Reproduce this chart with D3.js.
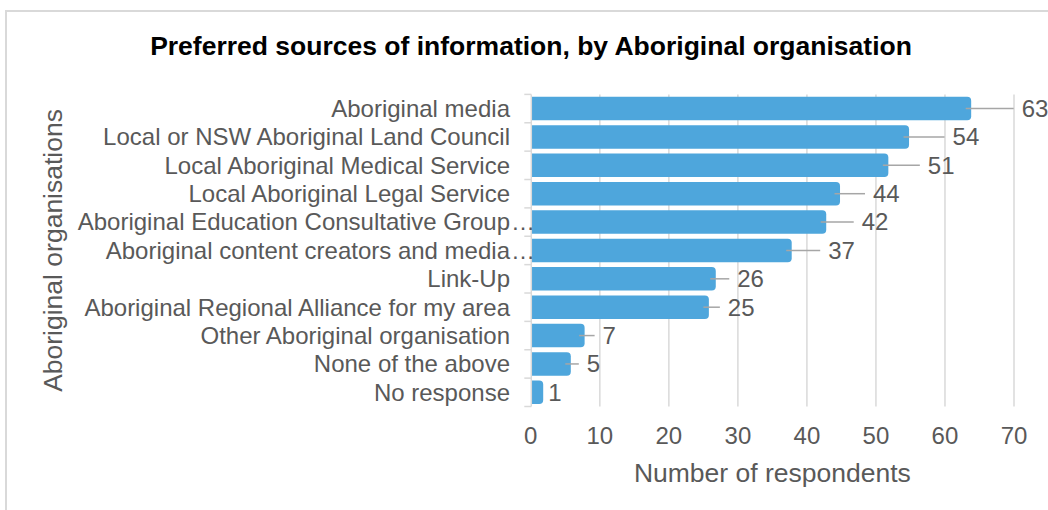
<!DOCTYPE html>
<html>
<head>
<meta charset="utf-8">
<script src="https://cdn.jsdelivr.net/npm/d3@7"></script>
<style>
  html, body { margin: 0; padding: 0; background: #fff; }
  svg { display: block; font-family: "Liberation Sans", Arial, sans-serif; }
</style>
</head>
<body>
<svg id="chart" width="1048" height="510"></svg>
<script>
// ---- data ----
const categories = [
  "Aboriginal media",
  "Local or NSW Aboriginal Land Council",
  "Local Aboriginal Medical Service",
  "Local Aboriginal Legal Service",
  "Aboriginal Education Consultative Group…",
  "Aboriginal content creators and media…",
  "Link-Up",
  "Aboriginal Regional Alliance for my area",
  "Other Aboriginal organisation",
  "None of the above",
  "No response"
];
const values = [63, 54, 51, 44, 42, 37, 26, 25, 7, 5, 1];
const xTickValues = [0, 10, 20, 30, 40, 50, 60, 70];
const chartTitle = "Preferred sources of information, by Aboriginal organisation";
const xAxisTitle = "Number of respondents";
const yAxisTitle = "Aboriginal organisations";

// ---- layout (not data) ----
const labelOffsets = [56, 49, 45, 38.5, 41, 42, 27, 24.5, 23.5, 21.5, 10.5];
const textColor = "#595959";
const gridColor = "#d9d9d9";
const barColor = "#4ea6dc";
const plotTop = 94.4, plotBottom = 406.5;

const svg = d3.select("#chart");

// outer chart border (top and left visible)
svg.append("rect")
  .attr("x", 6).attr("y", 11)
  .attr("width", 1200).attr("height", 600)
  .attr("fill", "none").attr("stroke", gridColor).attr("stroke-width", 2);

const x = d3.scaleLinear().domain([0, 70]).range([530.8, 1014]);
const y = d3.scaleBand().domain(categories).range([plotTop, plotBottom])
  .paddingInner(0.17).paddingOuter(0.085);

// title
svg.append("text")
  .attr("x", 531).attr("y", 55)
  .attr("text-anchor", "middle")
  .attr("font-size", 26.5).attr("font-weight", "bold").attr("fill", "#000")
  .text(chartTitle);

// gridlines
svg.append("g").selectAll("line").data(xTickValues.filter(d => d > 0)).join("line")
  .attr("x1", d => x(d)).attr("x2", d => x(d))
  .attr("y1", plotTop).attr("y2", plotBottom)
  .attr("stroke", gridColor).attr("stroke-width", 1.5);

// x tick labels
svg.append("g").selectAll("text").data(xTickValues).join("text")
  .attr("x", d => x(d)).attr("y", 443.5)
  .attr("text-anchor", "middle")
  .attr("font-size", 24).attr("fill", textColor)
  .text(d => d);

// bars (right corners rounded)
const r = 4;
function barPath(v, cat) {
  const x0 = x(0) + 1, x1 = x(v) + 5.5;
  const y0 = y(cat), h = y.bandwidth(), y1 = y0 + h;
  const rr = Math.min(r, (x1 - x0) / 2);
  return `M${x0},${y0} H${x1 - rr} Q${x1},${y0} ${x1},${y0 + rr} V${y1 - rr} Q${x1},${y1} ${x1 - rr},${y1} H${x0} Z`;
}
svg.append("g").selectAll("path").data(values).join("path")
  .attr("d", (v, i) => barPath(v, categories[i]))
  .attr("fill", barColor);

// y axis line & ticks
const yAxisX = x(0) + 0.5;
svg.append("line")
  .attr("x1", yAxisX).attr("x2", yAxisX)
  .attr("y1", plotTop).attr("y2", plotBottom)
  .attr("stroke", gridColor).attr("stroke-width", 1.5);
const boundaries = d3.range(categories.length + 1).map(i => plotTop + i * (plotBottom - plotTop) / categories.length);
svg.append("g").selectAll("line").data(boundaries).join("line")
  .attr("x1", yAxisX - 7).attr("x2", yAxisX)
  .attr("y1", d => d).attr("y2", d => d)
  .attr("stroke", gridColor).attr("stroke-width", 1.5);

// category labels
const catG = svg.append("g");
categories.forEach((c, i) => {
  const cy = y(c) + y.bandwidth() / 2;
  const trunc = c.endsWith("…");
  catG.append("text")
    .attr("x", 510).attr("y", cy).attr("dy", "0.35em")
    .attr("text-anchor", "end")
    .attr("font-size", 24).attr("fill", textColor)
    .text(trunc ? c.slice(0, -1) : c);
  if (trunc) {
    catG.append("text")
      .attr("x", 511).attr("y", cy).attr("dy", "0.35em")
      .attr("font-size", 24).attr("fill", textColor)
      .text("…");
  }
});

// leader lines and value labels
const lblG = svg.append("g");
values.forEach((v, i) => {
  const cy = y(categories[i]) + y.bandwidth() / 2;
  const lx = x(v) + labelOffsets[i];
  if (lx - 8 > x(v) + 7) {
    lblG.append("line")
      .attr("x1", x(v)).attr("x2", lx - 8)
      .attr("y1", cy).attr("y2", cy)
      .attr("stroke", "#a6a6a6").attr("stroke-width", 1.5);
  }
  lblG.append("text")
    .attr("x", lx).attr("y", cy).attr("dy", "0.35em")
    .attr("font-size", 24).attr("fill", textColor)
    .text(v);
});

// axis titles
svg.append("text")
  .attr("x", (x(0) + x(70)) / 2).attr("y", 482)
  .attr("text-anchor", "middle")
  .attr("font-size", 26.5).attr("fill", textColor)
  .text(xAxisTitle);

svg.append("text")
  .attr("transform", `translate(62,${(plotTop + plotBottom) / 2}) rotate(-90)`)
  .attr("text-anchor", "middle")
  .attr("font-size", 26.5).attr("fill", textColor)
  .text(yAxisTitle);
</script>
</body>
</html>
